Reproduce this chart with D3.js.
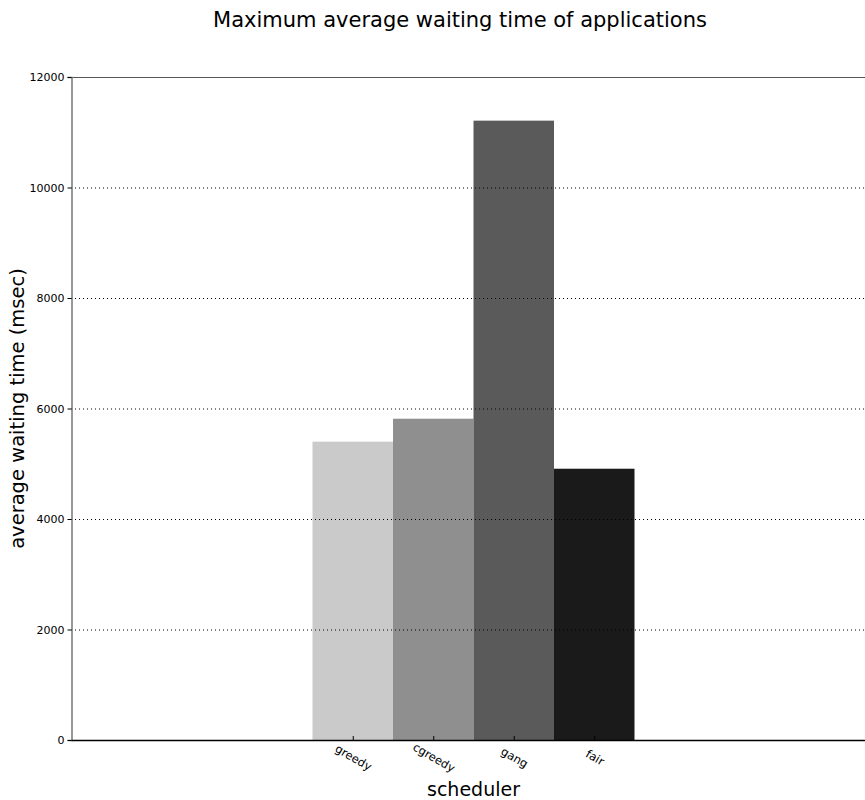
<!DOCTYPE html>
<html>
<head>
<meta charset="utf-8">
<script src="https://cdn.jsdelivr.net/npm/d3@7"></script>
<style>
  body { margin: 0; background: #fff; }
  svg { display: block; font-family: "DejaVu Sans", sans-serif; }
</style>
</head>
<body>
<div id="root"></div>
<script>
// chart data
const schedulers = ["greedy", "cgreedy", "gang", "fair"];
const waitTimes = [5400, 5815, 11210, 4910];
const barColors = ["#cacaca", "#8f8f8f", "#5a5a5a", "#1a1a1a"];
const yTicks = [0, 2000, 4000, 6000, 8000, 10000, 12000];

const width = 865;
const height = 800;
const margin = { top: 77, left: 71, bottom: 60, right: -11 };
const innerW = width - margin.left - margin.right;
const innerH = height - margin.top - margin.bottom;

const svg = d3.select("#root")
  .append("svg")
  .attr("width", width)
  .attr("height", height);

const g = svg.append("g")
  .attr("transform", `translate(${margin.left},${margin.top})`);

// bars sit at 0..4 with width 1, axis spans -3..7
const x = d3.scaleLinear().domain([-3, 7]).range([0, innerW]);
const y = d3.scaleLinear().domain([0, 12000]).range([innerH, 0]);

g.selectAll("rect.bar")
  .data(waitTimes)
  .enter()
  .append("rect")
  .attr("class", "bar")
  .attr("x", (d, i) => x(i))
  .attr("width", x(1) - x(0))
  .attr("y", d => y(d))
  .attr("height", d => innerH - y(d))
  .attr("fill", (d, i) => barColors[i]);

// dotted grid on top of the bars
g.selectAll("line.grid")
  .data(yTicks.slice(1))
  .enter()
  .append("line")
  .attr("class", "grid")
  .attr("x1", 0)
  .attr("x2", innerW)
  .attr("y1", d => y(d) + 0.5)
  .attr("y2", d => y(d) + 0.5)
  .attr("stroke", "#000")
  .attr("stroke-width", 1)
  .attr("stroke-dasharray", "1,3");

// top spine
g.append("line")
  .attr("x1", 0).attr("x2", innerW)
  .attr("y1", 0.5).attr("y2", 0.5)
  .attr("stroke", "#555");

// y axis
const yAxis = d3.axisLeft(y)
  .tickValues(yTicks)
  .tickFormat(d3.format("d"))
  .tickSize(4)
  .tickPadding(3);
const yG = g.append("g").attr("transform", "translate(0.5,0)").call(yAxis);
yG.select(".domain").attr("stroke", "#777").attr("stroke-width", 1.5);
yG.selectAll(".tick line").attr("stroke", "#000");
yG.selectAll(".tick text")
  .attr("font-size", 11)
  .attr("fill", "#000")
  .attr("font-family", "DejaVu Sans");

// x axis, ticks pointing inward
const xAxis = d3.axisBottom(x)
  .tickValues(d3.range(schedulers.length).map(i => i + 0.5))
  .tickFormat((d, i) => schedulers[i])
  .tickSize(-4)
  .tickSizeOuter(0);
const xG = g.append("g").attr("transform", `translate(0,${innerH})`).call(xAxis);
xG.select(".domain").attr("stroke", "#000").attr("stroke-width", 1.5);
xG.selectAll(".tick line").attr("stroke", "#000");
xG.selectAll(".tick text")
  .attr("font-size", 11.5)
  .attr("fill", "#000")
  .attr("font-family", "DejaVu Sans")
  .attr("y", 0)
  .attr("dy", 0)
  .attr("text-anchor", "middle")
  .attr("dominant-baseline", "middle")
  .attr("transform", "translate(0,18) rotate(30)");

// titles
svg.append("text")
  .attr("x", 460)
  .attr("y", 27)
  .attr("text-anchor", "middle")
  .attr("font-size", 21)
  .attr("fill", "#000")
  .text("Maximum average waiting time of applications");

svg.append("text")
  .attr("x", margin.left + (x(7) - x(-3)) / 2)
  .attr("y", 796)
  .attr("text-anchor", "middle")
  .attr("font-size", 19)
  .attr("fill", "#000")
  .text("scheduler");

svg.append("text")
  .attr("transform", `translate(24,${margin.top + innerH / 2}) rotate(-90)`)
  .attr("text-anchor", "middle")
  .attr("font-size", 19.5)
  .attr("fill", "#000")
  .text("average waiting time (msec)");
</script>
</body>
</html>
